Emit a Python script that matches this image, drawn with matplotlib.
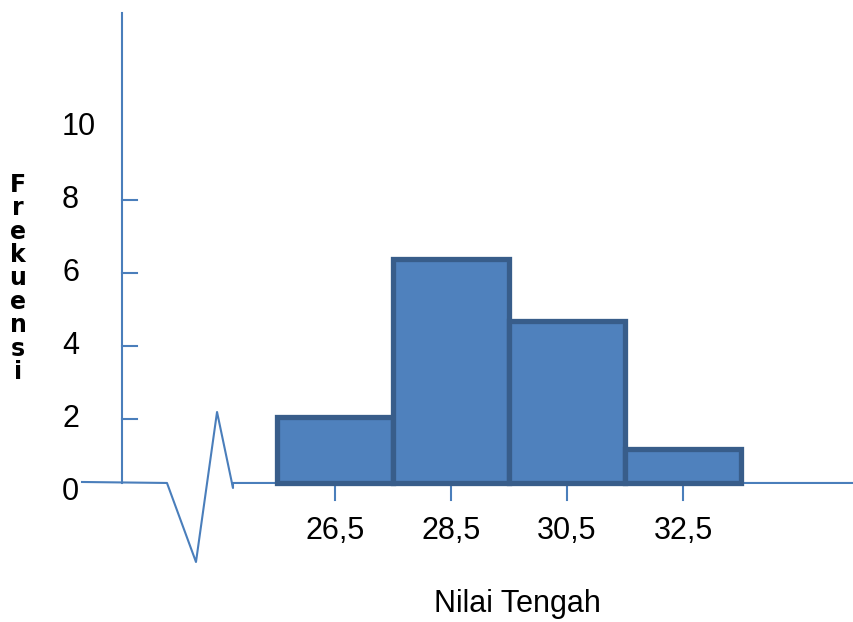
import numpy as np
import matplotlib.pyplot as plt

# data
nilai_tengah = [26.5, 28.5, 30.5, 32.5]
frekuensi = [2.05, 6.38, 4.68, 1.18]
x_labels = ["26,5", "28,5", "30,5", "32,5"]
y_ticks = [2, 4, 6, 8]
y_labels = [0, 2, 4, 6, 8, 10]
lebar = 2.0

fill_col = "#4F81BD"
edge_col = "#385D8A"
axis_col = "#4A7EBB"

# the drawn x axis sits a little above the "0" label
base = 0.247

plt.rcParams['font.family'] = ['Liberation Sans', 'DejaVu Sans']

fig = plt.figure(figsize=(8.54, 6.22), dpi=100)
ax = fig.add_axes([0, 0, 1, 1])
ax.set_xlim(20.724, 35.448)
ax.set_ylim(-3.562, 13.479)
ax.axis("off")

# --- bars
heights = [f - base for f in frekuensi]
ax.bar(nilai_tengah, heights, bottom=base, width=lebar, color=fill_col,
       edgecolor=edge_col, linewidth=3.8, zorder=3)

# --- y axis
y0x = 22.828
ax.plot([y0x, y0x], [base, 13.12], color=axis_col, lw=1.5, zorder=2)
for t in y_ticks:
    ax.plot([y0x, 23.086], [t, t], color=axis_col, lw=1.5, zorder=2)

# --- x axis with break mark
brk_x = [22.138, 23.603, 24.103, 24.466, 24.741, 24.741, 35.414]
brk_y = [0.274, base, -1.918, 2.192, 0.11, base, base]
ax.plot(brk_x, brk_y, color=axis_col, lw=1.5, zorder=2)
for xv in nilai_tengah:
    ax.plot([xv, xv], [base, -0.219], color=axis_col, lw=1.5, zorder=2)

# --- tick labels
for xv, lab in zip(nilai_tengah, x_labels):
    ax.text(xv, -1.068, lab, fontsize=22, ha="center", va="center")
for v in y_labels:
    ax.text(21.793, v, str(v), fontsize=22, ha="left", va="center")

# --- axis titles
ax.text(29.638, -3.068, "Nilai Tengah", fontsize=22, ha="center", va="center")
ax.text(21.034, 5.85, "\n".join("Frekuensi"), fontsize=17, fontweight="heavy",
        family="DejaVu Sans", ha="center", va="center", linespacing=0.97)

fig.savefig("out.png", dpi=100)
plt.close()
